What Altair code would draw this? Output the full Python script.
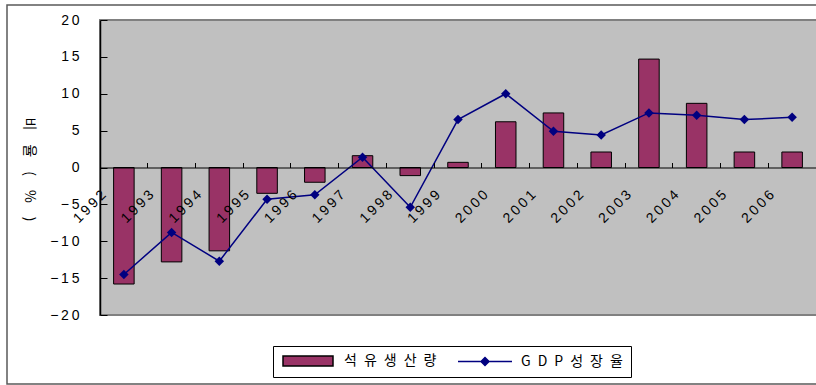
import altair as alt
import pandas as pd

# Annual change, 1992-2006 (%)
years = ["1992", "1993", "1994", "1995", "1996", "1997", "1998", "1999",
         "2000", "2001", "2002", "2003", "2004", "2005", "2006"]
oil_output = [-15.8, -12.8, -11.3, -3.5, -2.0, 1.6, -1.1, 0.7,
              6.2, 7.4, 2.1, 14.7, 8.7, 2.1, 2.1]
gdp_growth = [-14.5, -8.8, -12.7, -4.3, -3.7, 1.4, -5.4, 6.5,
              10.0, 4.9, 4.4, 7.4, 7.1, 6.5, 6.8]
series_names = ["석유생산량", "GDP성장율"]
y_ticks = [-20, -15, -10, -5, 0, 5, 10, 15, 20]
y_title = "비율(%)"

W, H = 716, 295
ZERO_OFFSET = -H / 2          # symmetric domain: zero sits at half height
HALF_BAND = W / len(years) / 2

BAR_FILL = "#993366"
LINE_COLOR = "#000080"
PLOT_BG = "#C0C0C0"
LATIN = "Liberation Sans"
HANGUL = "Noto Sans CJK KR"


def spaced(sep):
    # widen label text by putting a small space between characters
    return f"replace(datum.label, regexp('(.)(?=.)', 'g'), '$1{sep}')"


df = pd.DataFrame({"year": years, "oil": oil_output, "gdp": gdp_growth})
legend_df = pd.DataFrame({"series": series_names})
one_row = pd.DataFrame({"k": [0]})

x_scale = alt.Scale(paddingInner=0, paddingOuter=0)
y_scale = alt.Scale(domain=[-20, 20], nice=False)

# category axis sitting on the zero line: labels only, hung at band starts
x_labels_axis = alt.Axis(
    orient="bottom", offset=ZERO_OFFSET, bandPosition=0, title=None,
    ticks=False, tickSize=0, grid=False, domain=True, domainColor="#000000",
    domainWidth=1.2, labelAngle=315, labelAlign="right", labelBaseline="middle",
    labelPadding=25, labelOffset=4 - HALF_BAND, labelFont=LATIN, labelFontSize=14,
    labelColor="#000000", labelOverlap=False, labelExpr=spaced("\u2009"), zindex=1)
# short upward ticks on the zero line
x_ticks_axis = alt.Axis(
    orient="top", offset=ZERO_OFFSET, bandPosition=0, title=None, labels=False,
    ticks=True, tickSize=5, tickColor="#000000", domain=False, grid=False, zindex=1)
y_labels_axis = alt.Axis(
    orient="left", values=y_ticks, ticks=False, tickSize=0, grid=False,
    domain=True, domainColor="#000000", domainWidth=1.5, labelPadding=21,
    labelFont=LATIN, labelFontSize=14, labelColor="#000000",
    labelExpr=spaced("\u2009"),
    title="\u2003".join(list(y_title)), titleAngle=90, titleX=-72, titleY=H / 2 + 1.5,
    titleAlign="center", titleBaseline="middle", titleFont=HANGUL,
    titleFontSize=14, titleFontWeight="normal", titleColor="#000000", zindex=1)
# inward ticks along the left edge
y_ticks_axis = alt.Axis(
    orient="right", offset=-W, values=y_ticks, labels=False, ticks=True,
    tickSize=7, tickColor="#000000", domain=False, grid=False, title=None, zindex=1)

outer_frame = alt.Chart(one_row).mark_rect(
    fillOpacity=0, stroke="#5a5a5a", strokeWidth=1.5
).encode(x=alt.value(-93), x2=alt.value(760), y=alt.value(-15), y2=alt.value(364))

plot_bg = alt.Chart(one_row).mark_rect(
    fill=PLOT_BG, stroke="#808080", strokeWidth=2
).encode(x=alt.value(0), x2=alt.value(760), y=alt.value(0), y2=alt.value(H))

bars = alt.Chart(df).mark_bar(
    width=alt.RelativeBandSize(0.43), fill=BAR_FILL, stroke="#000000", strokeWidth=1
).encode(
    x=alt.X("year:O", scale=x_scale, axis=x_labels_axis),
    y=alt.Y("oil:Q", scale=y_scale, axis=y_labels_axis),
)

line = alt.Chart(df).mark_line(color=LINE_COLOR, strokeWidth=1.5).encode(
    x=alt.X("year:O", scale=x_scale, axis=x_ticks_axis),
    y=alt.Y("gdp:Q", scale=y_scale, axis=y_ticks_axis),
)

points = alt.Chart(df).mark_point(
    shape="diamond", filled=True, color=LINE_COLOR, size=90, opacity=1
).encode(
    x=alt.X("year:O", scale=x_scale, axis=None),
    y=alt.Y("gdp:Q", scale=y_scale, axis=None),
)

# legend symbols: a filled swatch and a line with a diamond (5 px per path unit)
bar_symbol = "M-5,-1H5V1H-5Z"
line_symbol = "M-5.4,0H5.4M-0.8,0L0,-0.8L0.8,0L0,0.8Z"

legend = alt.Legend(
    title=None, orient="none", legendX=173, legendY=326, direction="horizontal",
    fillColor="#ffffff", strokeColor="#000000", padding=8, columnPadding=18,
    symbolSize=100, symbolOffset=20, symbolStrokeWidth=1.5, symbolOpacity=1,
    labelFont=HANGUL, labelFontSize=14, labelColor="#000000", labelOffset=29,
    labelExpr=spaced("\u2002"))

legend_layer = alt.Chart(legend_df).mark_point(filled=True, opacity=0).encode(
    shape=alt.Shape("series:N", scale=alt.Scale(domain=series_names,
                    range=[bar_symbol, line_symbol]), legend=legend),
    fill=alt.Fill("series:N", scale=alt.Scale(domain=series_names,
                  range=[BAR_FILL, LINE_COLOR]), legend=legend),
    stroke=alt.Stroke("series:N", scale=alt.Scale(domain=series_names,
                      range=["#000000", LINE_COLOR]), legend=legend),
)

chart = alt.layer(
    outer_frame, plot_bg, bars, line, points, legend_layer
).properties(
    width=W, height=H,
    autosize=alt.AutoSizeParams(type="none"),
    padding={"left": 100, "top": 20, "right": 0, "bottom": 70},
    background="#ffffff",
).configure_view(stroke="transparent")

chart.save("out.html", embed_options={"renderer": "svg", "actions": False})
